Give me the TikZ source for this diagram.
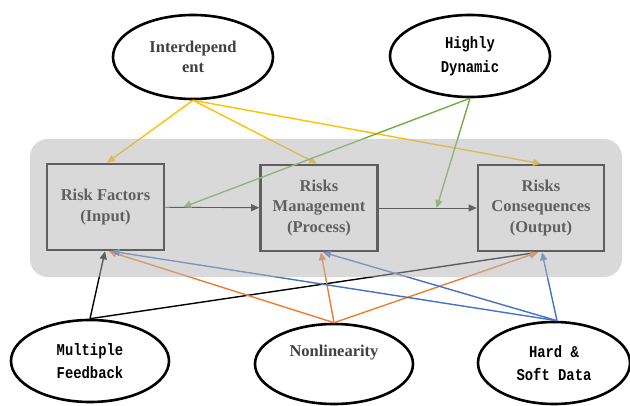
\documentclass[tikz,border=0pt]{standalone}
\usepackage{fontspec}
\setmainfont{Liberation Serif}
\newfontfamily\hanmono[FakeStretch=0.84]{Liberation Mono}
\usetikzlibrary{shapes.geometric,arrows.meta,calc}
\definecolor{ygold}{RGB}{255,192,0}
\definecolor{lgreen}{RGB}{112,173,71}
\definecolor{lorange}{RGB}{237,125,49}
\definecolor{lblue}{RGB}{68,114,196}
\definecolor{darktext}{RGB}{64,64,64}
\definecolor{panelgray}{RGB}{183,183,183}

\begin{document}
\begin{tikzpicture}[x=1pt,y=-1pt,
  bubble/.style={ellipse,draw=black,line width=2.6pt,minimum width=158pt,minimum height=82pt,inner sep=0pt,align=center},
  serif/.style={font=\fontsize{16.5}{20}\selectfont\bfseries,text=darktext},
  mono/.style={font=\fontsize{16.5}{23.5}\selectfont\hanmono\bfseries},
  stagebox/.style={draw=black,line width=2.6pt,minimum width=117pt,minimum height=86pt,align=center,font=\fontsize{16.5}{20.5}\selectfont\bfseries},
  link/.style={line width=1.4pt,-{Triangle[length=8pt,width=7pt]}},
  flow/.style={line width=0.9pt,black,-{Triangle[length=8pt,width=7pt]}}]
\useasboundingbox (0,0) rectangle (630,406);

\node[stagebox] (rf) at (105.5,207) {Risk Factors\\(Input)};
\node[stagebox] (rm) at (319,208) {Risks\\Management\\(Process)};
\node[stagebox,minimum width=126pt] (rc) at (541,208) {Risks\\Consequences\\(Output)};

\node[bubble,serif,minimum width=160pt,minimum height=84pt] (idep) at (193,57) {Interdepend\\ent};
\node[bubble,mono,minimum width=160pt] (hdyn) at (470,56) {Highly\\Dynamic};
\node[bubble,mono] (mfb) at (90,361) {Multiple\\Feedback};
\node[bubble,minimum height=80pt] (nonl) at (334,364) {};
\node[serif] (nonltext) at (334,353) {Nonlinearity};
\node[bubble,mono,minimum width=152pt] (hsd) at (554,363) {Hard \&\\Soft Data};

\coordinate (g1) at ($(rf.east)!0.19!(rm.west)$);
\coordinate (g2) at ($(rm.east)!0.59!(rc.west)$);

\draw[flow] (rf) -- (rm);
\draw[flow] (rm) -- (rc);

\draw[link,ygold] (idep.south) -- ([xshift=1.5pt]rf.north);
\draw[link,ygold] (idep.south) -- ([xshift=-2pt]rm.north);
\draw[link,ygold] (idep.south) -- (rc.north);
\draw[link,lgreen] (hdyn.south) -- (g1);
\draw[link,lgreen] (hdyn.south) -- (g2);

\draw[link,black] (mfb.north) -- ([xshift=-0.5pt]rf.south);
\draw[link,black] (mfb.north) -- ([xshift=-3pt]rc.south);
\draw[link,lorange] (nonl.north) -- ([xshift=3pt]rf.south);
\draw[link,lorange] (nonl.north) -- ([xshift=2pt]rm.south);
\draw[link,lorange] (nonl.north) -- ([xshift=-3pt]rc.south);
\draw[link,lblue] ([xshift=3pt]hsd.north) -- ([xshift=6pt]rf.south);
\draw[link,lblue] ([xshift=3pt]hsd.north) -- ([xshift=4pt]rm.south);
\draw[link,lblue] ([xshift=3pt]hsd.north) -- ([xshift=1pt]rc.south);

\fill[panelgray,fill opacity=0.52,rounded corners=18pt] (30,139) rectangle (622,277);
\end{tikzpicture}
\end{document}
